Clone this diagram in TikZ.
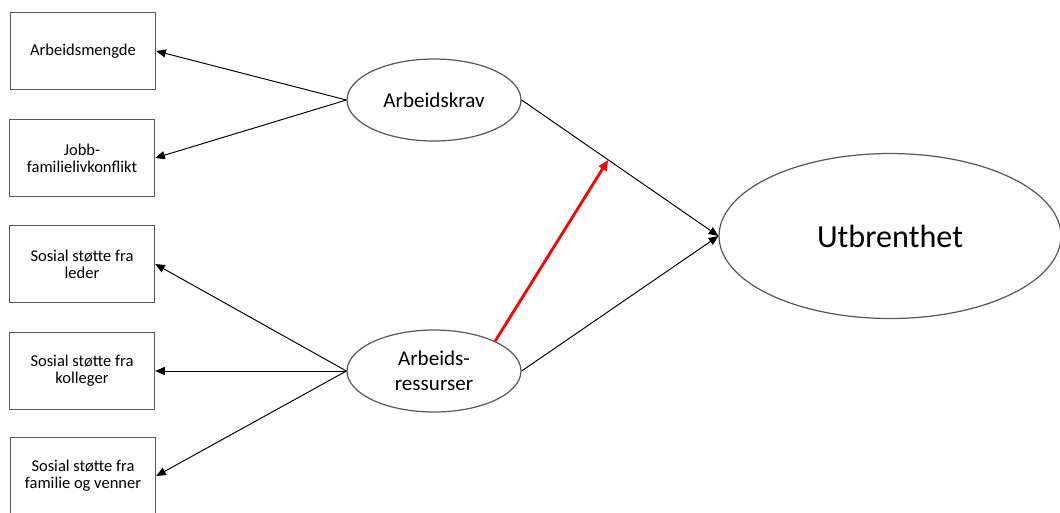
\documentclass[tikz,border=0pt]{standalone}
\usepackage{fontspec}
\setmainfont{Carlito}
\usetikzlibrary{shapes.geometric,arrows.meta}
\begin{document}
\begin{tikzpicture}[x=0.02cm,y=-0.02cm,
  box/.style={draw=black!65,line width=0.8pt,minimum width=2.9cm,minimum height=1.54cm,
    inner sep=2pt,align=center,font=\fontsize{9.4}{9.8}\selectfont},
  oval/.style={ellipse,draw=black!65,line width=0.7pt,inner sep=0pt,align=center},
  conn/.style={line width=0.55pt,-{Triangle[length=5.5pt,width=4.6pt]}},
  redarrow/.style={red,line width=1.6pt,-{Triangle[length=6pt,width=5pt]}}]
\useasboundingbox (0,0) rectangle (1060,512);
\node[box] (b1) at (83,51) {Arbeidsmengde};
\node[box] (b2) at (82,158) {Jobb-\\familielivkonflikt};
\node[box] (b3) at (82,264) {Sosial støtte fra\\leder};
\node[box] (b4) at (82,371) {Sosial støtte fra\\kolleger};
\node[box] (b5) at (83,476) {Sosial støtte fra\\familie og venner};
\node[oval,minimum width=3.48cm,minimum height=1.64cm,font=\fontsize{12}{14}\selectfont] (krav) at (434,100) {Arbeidskrav};
\node[oval,minimum width=3.48cm,minimum height=1.64cm,font=\fontsize{12}{14}\selectfont] (res) at (434,371) {Arbeids-\\ressurser};
\node[oval,minimum width=6.84cm,minimum height=3.3cm,font=\fontsize{18.3}{20}\selectfont] (ut) at (890,236) {Utbrenthet};
\draw[conn] (krav.west) -- (b1.east);
\draw[conn] (krav.west) -- (b2.east);
\draw[conn] (res.west) -- (b3.east);
\draw[conn] (res.west) -- (b4.east);
\draw[conn] (res.west) -- (b5.east);
\draw[conn] (krav.east) -- coordinate[pos=0.44] (mid) (ut.west);
\draw[conn] (res.east) -- (ut.west);
\draw[redarrow] (res.26) -- (mid);
\end{tikzpicture}
\end{document}
